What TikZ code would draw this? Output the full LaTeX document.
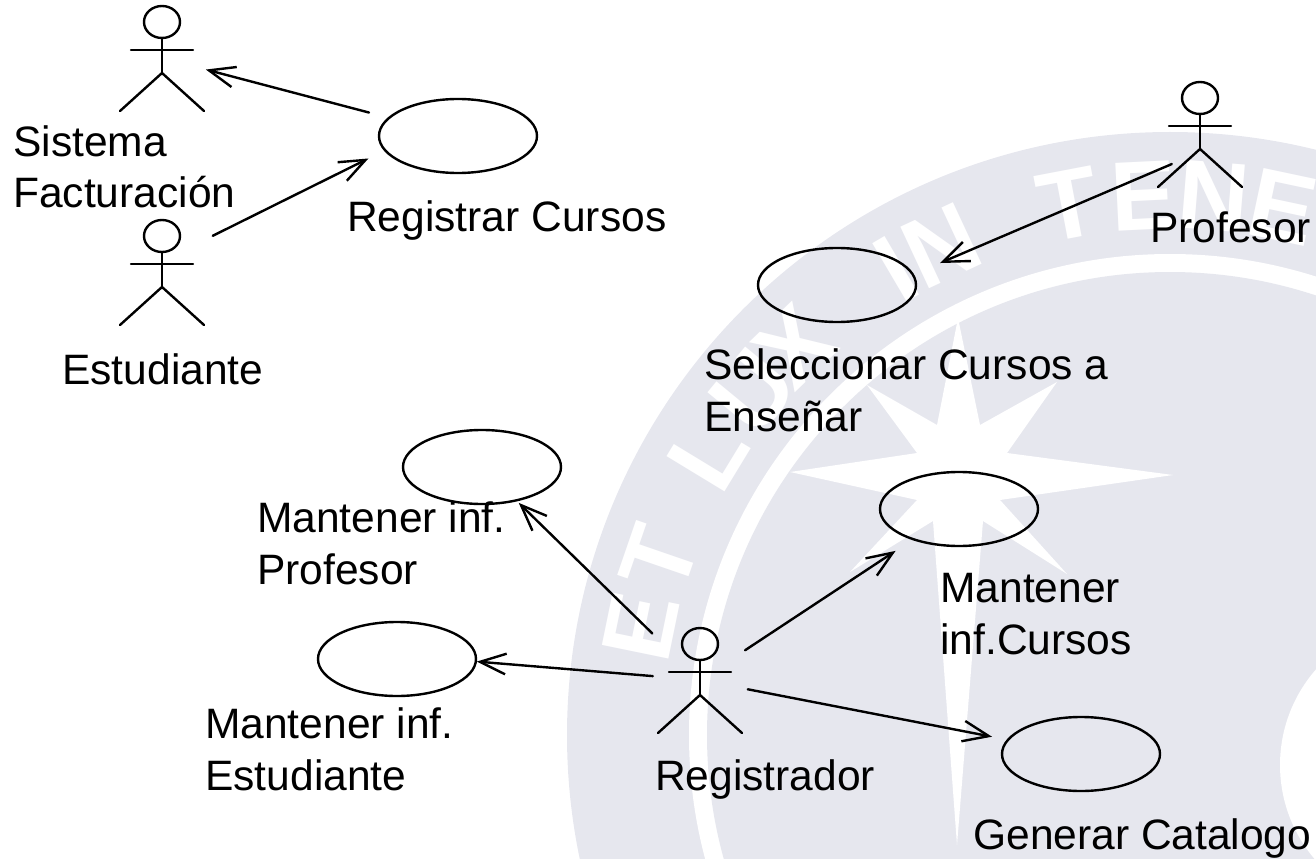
\documentclass[tikz,border=0pt]{standalone}
\usepackage{fontspec}
\setmainfont{Liberation Sans}
\usetikzlibrary{shapes.geometric,arrows.meta}
\definecolor{sellogris}{HTML}{E6E7EE}
\tikzset{
	caso/.style={draw,ellipse,line width=1.8pt,minimum width=118.5pt,minimum height=55.5pt,inner sep=0pt},
	actorbox/.style={minimum width=63pt,minimum height=80pt,inner sep=0pt},
	etiqueta/.style={inner sep=0pt,align=left,anchor=base west,font=\fontsize{31.9}{38.5}\selectfont},
	letra/.style={text=white,inner sep=0pt,font=\fontsize{74}{74}\selectfont\bfseries},
	asoc/.style={->,line width=1.8pt},
}
\newcommand{\actorfig}[3]{
	\node[actorbox] (#1) at (#2,#3) {};
	\begin{scope}[shift={(#2,#3)},line width=1.8pt]
		\draw (0,-36) ellipse [x radius=18,y radius=16];
		\draw (0,-20)--(0,15);
		\draw (-31,-8)--(31,-8);
		\draw (-42,53)--(0,15)--(42,53);
	\end{scope}
}
\begin{document}
\begin{tikzpicture}[line cap=round,line join=round,>={Straight Barb[length=19.5pt,width=15.5pt]},x=.75pt,y=-.75pt]
		\useasboundingbox (0,0) rectangle (1316,859);
		\clip (0,0) rectangle (1316,859);
		\fill[sellogris] (1170,735) circle (603);
		\fill[white] (1170,735) circle (481);
		\fill[sellogris] (1170,735) circle (463);
		\fill[white] (958,318)--(980,425)--(1057,382)--(1007,453)--(1173,475)--(1000,500)--(1067,574)--(983,521)--(957,845)--(933,521)--(850,572)--(917,500)--(790,472)--(917,453)--(867,385)--(937,425)--cycle;
		\fill[white] (1425,765) circle (145);
		\foreach \l/\a [count=\n] in {E/168.4,T/161,L/148.7,U/140.5,X/134,I/120.5,N/115,T/100.8,E/92.8,N/85.4,E/78}
			\node[letra,rotate=\a-90] (letra\n) at ([shift={(1170,735)}]-\a:540) {\l};

		\actorfig{sistema}{162}{58}
		\actorfig{estudiante}{162}{272}
		\actorfig{profesor}{1200}{134}
		\actorfig{registrador}{700}{680}

		\node[caso] (registrar) at (458,136) {};
		\node[caso] (seleccionar) at (837,285) {};
		\node[caso] (infprofesor) at (482,467) {};
		\node[caso] (infcursos) at (959,509) {};
		\node[caso] (infestudiante) at (397,659) {};
		\node[caso] (catalogo) at (1081,754) {};

		\node[etiqueta] (lsistema) at (13,208) {Sistema\\Facturación};
		\node[etiqueta] (lregistrar) at (347,232) {Registrar Cursos};
		\node[etiqueta] (lestudiante) at (62,384) {Estudiante};
		\node[etiqueta] (lprofesor) at (1150,243) {Profesor};
		\node[etiqueta] (lseleccionar) at (704,431) {Seleccionar Cursos a\\Enseñar};
		\node[etiqueta] (linfprofesor) at (257,584) {Mantener inf.\\Profesor};
		\node[etiqueta] (linfcursos) at (940,654) {Mantener\\inf.Cursos};
		\node[etiqueta] (linfestudiante) at (205,790) {Mantener inf.\\Estudiante};
		\node[etiqueta] (lregistrador) at (655,790) {Registrador};
		\node[etiqueta] (lcatalogo) at (973,849) {Generar Catalogo};

		\draw[asoc,shorten <=69pt,shorten >=34pt] (registrar.center)--(sistema.center);
		\draw[asoc,shorten <=42.5pt,shorten >=75pt] ([shift={(0,-11)}]estudiante.center)--([shift={(0,-22)}]registrar.center);
		\draw[asoc,shorten <=23pt,shorten >=84pt] ([shift={(0,18)}]profesor.center)--([shift={(0,22)}]seleccionar.center);
		\draw[asoc,shorten <=40.5pt,shorten >=57pt] (registrador.center)--(infcursos.center);
		\draw[asoc,shorten <=36.5pt,shorten >=68pt] (registrador.center)--(catalogo.center);
		\draw[asoc,shorten <=50pt,shorten >=38.5pt] (registrador.center)--(infprofesor.center);
		\draw[asoc,shorten <=35.5pt,shorten >=60pt] (registrador.center)--([shift={(0,-4)}]infestudiante.center);
\end{tikzpicture}
\end{document}
